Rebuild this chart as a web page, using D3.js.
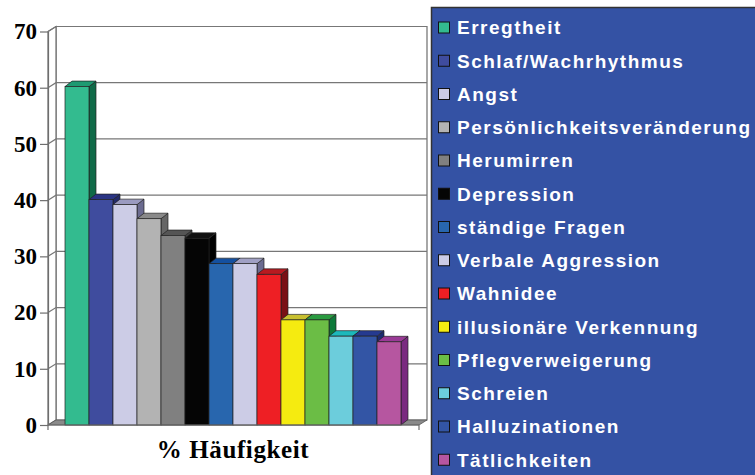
<!DOCTYPE html>
<meta charset="utf-8">
<style>
    body { margin: 0; background: #ffffff; }
    .ylab text { font-family: "Liberation Serif", "Times New Roman", serif; font-weight: bold; font-size: 23px; fill: #000; }
    .legend text { font-family: "Liberation Sans", Arial, sans-serif; font-weight: bold; font-size: 19px; letter-spacing: 1.5px; fill: #ffffff; }
    .xlab { font-family: "Liberation Serif", "Times New Roman", serif; font-weight: bold; font-size: 25px; letter-spacing: 0.6px; }
</style>
<svg width="755" height="475"></svg>
<script src="https://d3js.org/d3.v7.min.js"></script>
<script>

    // categories and values (% Häufigkeit)
    var categories = ["Erregtheit", "Schlaf/Wachrhythmus", "Angst", "Persönlichkeitsveränderung",
        "Herumirren", "Depression", "ständige Fragen", "Verbale Aggression", "Wahnidee",
        "illusionäre Verkennung", "Pflegverweigerung", "Schreien", "Halluzinationen", "Tätlichkeiten"];
    var values = [60.2, 40.1, 39.2, 36.7, 33.7, 33.2, 28.7, 28.7, 26.8, 18.7, 18.7, 15.8, 15.8, 14.8];
    var colors = ["#33bb8f", "#3f4c9e", "#ccccE6", "#b3b3b3", "#808080", "#050505", "#2866ae",
        "#ccccE6", "#ee1f24", "#f5eb10", "#6bbd45", "#6ccddc", "#3355a5", "#b656a0"];
    var topColors = ["#1e9a72", "#2a3484", "#9a9ac0", "#8a8a8a", "#555555", "#111111", "#1450a0",
        "#a0a0c4", "#b81a20", "#c8c030", "#2a9a40", "#1cb8bb", "#253a90", "#9a3a96"];
    var sideColors = ["#106a48", "#232a6a", "#6b6b90", "#666666", "#404040", "#000000", "#0f3c78",
        "#6b6b90", "#7a1015", "#9a9018", "#0d7a3a", "#1a9aa0", "#1c2c70", "#7a2a80"];
    var yTicks = [0, 10, 20, 30, 40, 50, 60, 70];

    var svg = d3.select("svg");

    var x0 = 48, x1 = 419;          // front plane of the plot
    var wdx = 8, wdy = -5;          // wall depth
    var bdx = 7, bdy = -5.5;        // bar depth

    var y = d3.scaleLinear().domain([0, 70]).range([425, 31.5]);
    var x = d3.scaleBand().domain(categories).range([65, 401]).padding(0);

    // walls
    svg.append("polygon")
        .attr("points", [[x0 + wdx, y(70) + wdy], [x1 + wdx, y(70) + wdy], [x1 + wdx, y(0) + wdy], [x0 + wdx, y(0) + wdy]].join(" "))
        .attr("fill", "#ffffff").attr("stroke", "#6e6e6e").attr("stroke-width", 1.2);
    svg.append("polygon")
        .attr("points", [[x0, y(0)], [x0, y(70)], [x0 + wdx, y(70) + wdy], [x0 + wdx, y(0) + wdy]].join(" "))
        .attr("fill", "#ffffff").attr("stroke", "#6e6e6e").attr("stroke-width", 1.2);

    // gridlines on left and back walls
    svg.append("g").selectAll("polyline")
        .data(yTicks.slice(1))
        .enter().append("polyline")
        .attr("points", function (d) {
            return [[x0, y(d)], [x0 + wdx, y(d) + wdy], [x1 + wdx, y(d) + wdy]].join(" ");
        })
        .attr("fill", "none")
        .attr("stroke", "#777777")
        .attr("stroke-width", 1.2);

    // floor
    svg.append("polygon")
        .attr("points", [[x0, y(0)], [x1, y(0)], [x1 + wdx, y(0) + wdy], [x0 + wdx, y(0) + wdy]].join(" "))
        .attr("fill", "#8a8a8a").attr("stroke", "#555555").attr("stroke-width", 0.8);

    // bars, drawn left to right so each front hides the previous side
    var bars = svg.append("g").selectAll("g")
        .data(categories)
        .enter().append("g");

    bars.each(function (d, i) {
        var g = d3.select(this),
            xl = x(d), xr = x(d) + x.bandwidth(),
            yt = y(values[i]), yb = y(0);
        g.append("polygon")
            .attr("points", [[xr, yb], [xr, yt], [xr + bdx, yt + bdy], [xr + bdx, yb + bdy]].join(" "))
            .attr("fill", sideColors[i]).attr("stroke", "#222").attr("stroke-width", 0.7);
        g.append("polygon")
            .attr("points", [[xl, yt], [xr, yt], [xr + bdx, yt + bdy], [xl + bdx, yt + bdy]].join(" "))
            .attr("fill", topColors[i]).attr("stroke", "#222").attr("stroke-width", 0.7);
        g.append("rect")
            .attr("x", xl).attr("y", yt)
            .attr("width", x.bandwidth()).attr("height", yb - yt)
            .attr("fill", colors[i]).attr("stroke", "#222").attr("stroke-width", 0.7);
    });

    // y axis
    var yAxis = svg.append("g")
        .attr("class", "ylab")
        .attr("transform", "translate(" + x0 + ",0)")
        .call(d3.axisLeft(y).tickValues(yTicks).tickSize(8).tickSizeOuter(0).tickPadding(3));
    yAxis.select(".domain").attr("stroke", "#6e6e6e").attr("stroke-width", 1.2);
    yAxis.selectAll(".tick line").attr("stroke", "#6e6e6e").attr("stroke-width", 1.2);
    yAxis.selectAll("text").attr("font-family", null).attr("font-size", null);

    // x axis line with end ticks
    svg.append("path")
        .attr("d", "M" + x0 + "," + (y(0) + 5) + "V" + y(0) + "H" + x1 + "V" + (y(0) + 5))
        .attr("fill", "none").attr("stroke", "#6e6e6e").attr("stroke-width", 1.2);

    svg.append("text")
        .attr("class", "xlab")
        .attr("x", 233).attr("y", 458)
        .attr("text-anchor", "middle")
        .text("% Häufigkeit");

    // legend
    var legend = svg.append("g").attr("class", "legend");
    legend.append("rect")
        .attr("x", 431.5).attr("y", 7.5)
        .attr("width", 340).attr("height", 480)
        .attr("fill", "#3452a4").attr("stroke", "#333333").attr("stroke-width", 1.5);

    var item = legend.selectAll("g.item")
        .data(categories)
        .enter().append("g")
        .attr("class", "item")
        .attr("transform", function (d, i) { return "translate(0," + (27.5 + i * 33.25) + ")"; });
    item.append("rect")
        .attr("x", 438.5).attr("y", -5.5)
        .attr("width", 11).attr("height", 11)
        .attr("fill", function (d, i) { return colors[i]; })
        .attr("stroke", "#111").attr("stroke-width", 1);
    item.append("text")
        .attr("x", 457).attr("dy", "0.36em")
        .text(function (d) { return d; });

</script>
